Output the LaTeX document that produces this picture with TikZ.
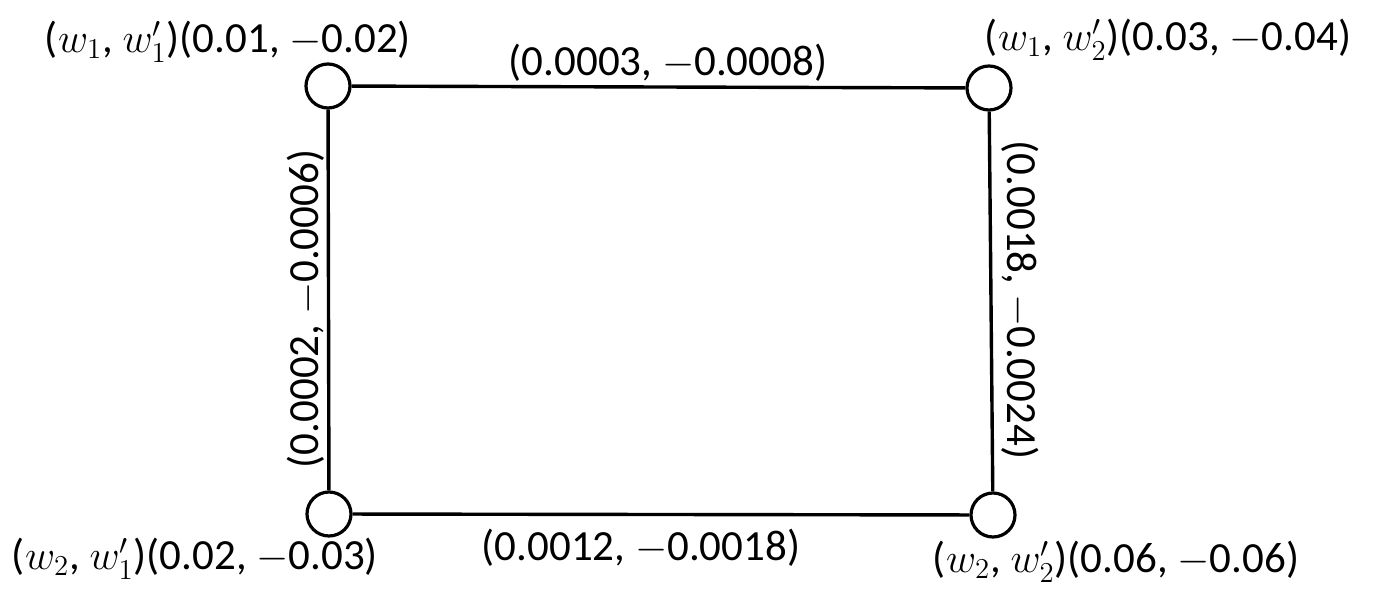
\documentclass[tikz,border=0pt]{standalone}
\usepackage{fontspec}
\setmainfont{Carlito}
\newcommand{\mn}{$-$}
\begin{document}
\begin{tikzpicture}[x=0.5pt,y=-0.5pt,
  every node/.style={font=\fontsize{21.5}{26}\selectfont, inner sep=0pt},
  vtx/.style={circle, draw, line width=1.6pt, minimum size=22pt, fill=white},
  edge/.style={line width=1.7pt}]
\useasboundingbox (0,0) rectangle (1376,598);
\node[vtx] (a) at (328,86) {};
\node[vtx] (b) at (989,88) {};
\node[vtx] (c) at (329,514) {};
\node[vtx] (d) at (993,515) {};
\draw[edge] (a) -- (b);
\draw[edge] (a) -- (c);
\draw[edge] (b) -- (d);
\draw[edge] (c) -- (d);
\node (la) at (228,42) {($w_1$, $w'_1$)(0.01, \mn0.02)};
\node (lb) at (1168,40) {($w_1$, $w'_2$)(0.03, \mn0.04)};
\node (lc) at (195,559) {($w_2$, $w'_1$)(0.02, \mn0.03)};
\node (ld) at (1116,562) {($w_2$, $w'_2$)(0.06, \mn0.06)};
\node (eab) at (668,63) {(0.0003, \mn0.0008)};
\node (ecd) at (641,548) {(0.0012, \mn0.0018)};
\node[rotate=90] (eac) at (306,309) {(0.0002, \mn0.0006)};
\node[rotate=-90] (ebd) at (1020,300) {(0.0018, \mn0.0024)};
\end{tikzpicture}
\end{document}
